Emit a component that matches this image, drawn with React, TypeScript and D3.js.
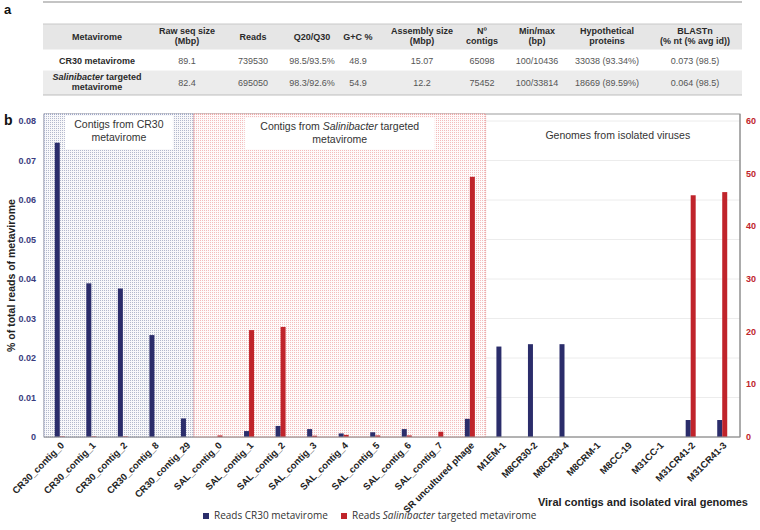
import React from 'react';
import * as d3 from 'd3';

// panel a: table
const tableHeaders = [
  ['Metavirome'], ['Raw seq size', '(Mbp)'], ['Reads'], ['Q20/Q30'], ['G+C %'],
  ['Assembly size', '(Mbp)'], ['Nº', 'contigs'], ['Min/max', '(bp)'],
  ['Hypothetical', 'proteins'], ['BLASTn', '(% nt (% avg id))'],
];
const rowCR30 = ['CR30 metavirome', '89.1', '739530', '98.5/93.5%', '48.9', '15.07', '65098', '100/10436', '33038 (93.34%)', '0.073 (98.5)'];
const rowSAL = ['Salinibacter targeted metavirome', '82.4', '695050', '98.3/92.6%', '54.9', '12.2', '75452', '100/33814', '18669 (89.59%)', '0.064 (98.5)'];
const colCenters = [97, 187, 253, 312, 358, 422, 482, 537, 607, 695];

// panel b: bars
const categories = [
  'CR30_contig_0', 'CR30_contig_1', 'CR30_contig_2', 'CR30_contig_8', 'CR30_contig_29',
  'SAL_contig_0', 'SAL_contig_1', 'SAL_contig_2', 'SAL_contig_3', 'SAL_contig_4',
  'SAL_contig_5', 'SAL_contig_6', 'SAL_contig_7', 'SR uncultured phage',
  'M1EM-1', 'M8CR30-2', 'M8CR30-4', 'M8CRM-1', 'M8CC-19', 'M31CC-1', 'M31CR41-2', 'M31CR41-3',
];
// % of total reads, CR30 metavirome (left axis)
const cr30Reads = [0.0745, 0.0389, 0.0376, 0.0258, 0.0047, 0, 0.0015, 0.0028, 0.002, 0.0009, 0.0012, 0.002, 0, 0.0046,
  0.0229, 0.0235, 0.0235, 0, 0, 0, 0.0043, 0.0043];
// % of total reads, Salinibacter targeted metavirome (right axis)
const salReads = [0.1, 0.1, 0.1, 0, 0, 0.3, 20.3, 20.9, 0.25, 0.4, 0.3, 0.3, 1.0, 49.4,
  0, 0, 0, 0, 0, 0, 45.9, 46.5];
const leftTicks = [0, 0.01, 0.02, 0.03, 0.04, 0.05, 0.06, 0.07, 0.08];
const rightTicks = [0, 10, 20, 30, 40, 50, 60];

const BLUE = '#2b2d6b';
const RED = '#c0242b';
const font = '"Liberation Sans", Arial, sans-serif';

const App = () => {
  const W = 760, H = 530;
  const m = {left: 44, right: 738, top: 114, bottom: 437};

  const x = d3.scaleBand().domain(categories).range([m.left, m.right]);
  const xs = d3.scaleBand().domain(['cr30', 'sal']).range([x.bandwidth() / 2 - 5, x.bandwidth() / 2 + 5]);
  const yL = d3.scaleLinear().domain([0, 0.08]).range([m.bottom, 121]);
  const yR = d3.scaleLinear().domain([0, 60]).range([m.bottom, 121]);

  const blueEnd = x('CR30_contig_29')! + x.bandwidth() * 0.75;
  const redEnd = x('M1EM-1')!;
  const axisRight = 740;

  return (
    <svg width={W} height={H} style={{display: 'block', position: 'absolute', left: 0, top: 0}} fontFamily={font}>
      <defs>
        <pattern id="dotBlue" width="2" height="2" patternUnits="userSpaceOnUse">
          <rect width="2" height="2" fill="#f8f8fa" />
          <rect width="1" height="1" fill="#b3b8cc" />
        </pattern>
        <pattern id="dotRed" width="2" height="2" patternUnits="userSpaceOnUse">
          <rect width="2" height="2" fill="#fefbfb" />
          <rect width="1" height="1" fill="#f3bcbc" />
        </pattern>
      </defs>
      <rect width={W} height={H} fill="#fff" />

      {/* panel a */}
      <text x={4} y={14} fontSize={13} fontWeight="bold" fill="#111">a</text>
      <line x1={43} x2={742} y1={2} y2={2} stroke="#c4c4c4" strokeWidth={2} />
      <rect x={43} y={24} width={699} height={26} fill="#e6e6e6" />
      <rect x={43} y={70} width={699} height={25} fill="#ececec" />
      <line x1={43} x2={742} y1={24} y2={24} stroke="#c8c8c8" />
      <line x1={43} x2={742} y1={95} y2={95} stroke="#bdbdbd" />
      <line x1={43} x2={742} y1={50} y2={50} stroke="#fff" />
      <line x1={43} x2={742} y1={70} y2={70} stroke="#fff" />
      {tableHeaders.map((h, i) => (
        <text key={'h' + i} x={colCenters[i]} textAnchor="middle" fontSize={9} fontWeight="bold" fill="#2a2a2a">
          {h.map((ln, j) => (
            <tspan key={j} x={colCenters[i]} y={h.length === 1 ? 40 : 34 + j * 10}>{ln}</tspan>
          ))}
        </text>
      ))}
      {rowCR30.map((v, i) => (
        <text key={'r1' + i} x={colCenters[i]} y={64} textAnchor="middle" fontSize={9}
              fontWeight={i === 0 ? 'bold' : 'normal'} fill={i === 0 ? '#2a2a2a' : '#555'}>{v}</text>
      ))}
      {rowSAL.map((v, i) => i === 0 ? (
        <text key="r2_0" x={colCenters[0]} textAnchor="middle" fontSize={9} fontWeight="bold" fill="#2a2a2a">
          <tspan x={colCenters[0]} y={80}><tspan fontStyle="italic">Salinibacter</tspan> targeted</tspan>
          <tspan x={colCenters[0]} y={90}>metavirome</tspan>
        </text>
      ) : (
        <text key={'r2' + i} x={colCenters[i]} y={86} textAnchor="middle" fontSize={9} fill="#555">{v}</text>
      ))}

      {/* panel b */}
      <text x={4} y={125} fontSize={14} fontWeight="bold" fill="#111">b</text>

      {/* white region gridlines */}
      {leftTicks.map(t => (
        <line key={'g' + t} x1={redEnd} x2={axisRight} y1={yL(t)} y2={yL(t)} stroke="#ececec" />
      ))}
      <rect x={m.left} y={m.top} width={axisRight - m.left} height={m.bottom - m.top} fill="none" stroke="#9c9c9c" />

      {/* shaded regions */}
      <rect x={m.left} y={m.top} width={blueEnd - m.left} height={m.bottom - m.top}
            fill="url(#dotBlue)" stroke="#8e97c0" strokeDasharray="1,1" />
      <rect x={blueEnd} y={m.top} width={redEnd - blueEnd} height={m.bottom - m.top}
            fill="url(#dotRed)" stroke="#e38a8a" strokeDasharray="1,1" />

      {/* region labels */}
      <rect x={(m.left + blueEnd) / 2 - 54} y={116} width={108} height={33} fill="#fff" />
      <text textAnchor="middle" fontSize={10.5} fill="#333">
        <tspan x={(m.left + blueEnd) / 2} y={128}>Contigs from CR30</tspan>
        <tspan x={(m.left + blueEnd) / 2} y={141}>metavirome</tspan>
      </text>
      <rect x={(blueEnd + redEnd) / 2 - 95} y={118} width={190} height={31} fill="#fff" />
      <text textAnchor="middle" fontSize={10.5} fill="#333">
        <tspan x={(blueEnd + redEnd) / 2} y={130}>Contigs from <tspan fontStyle="italic">Salinibacter</tspan> targeted</tspan>
        <tspan x={(blueEnd + redEnd) / 2} y={143}>metavirome</tspan>
      </text>
      <text x={(redEnd + axisRight) / 2 + 5} y={139} textAnchor="middle" fontSize={10.5} fill="#333">
        Genomes from isolated viruses
      </text>

      {/* bars */}
      {categories.map((c, i) => (
        <g key={c} transform={`translate(${x(c)},0)`}>
          {cr30Reads[i] > 0 && (
            <rect x={xs('cr30')} width={xs.bandwidth()} y={yL(cr30Reads[i])}
                  height={m.bottom - yL(cr30Reads[i])} fill={BLUE} />
          )}
          {salReads[i] > 0 && (
            <rect x={xs('sal')} width={xs.bandwidth()} y={yR(salReads[i])}
                  height={m.bottom - yR(salReads[i])} fill={RED} />
          )}
        </g>
      ))}

      {/* axes */}
      <line x1={m.left} x2={axisRight} y1={m.bottom} y2={m.bottom} stroke="#9c9c9c" />
      <line x1={axisRight} x2={axisRight} y1={m.top} y2={m.bottom} stroke="#8a8a8a" />
      {leftTicks.map(t => (
        <text key={'l' + t} x={36} y={yL(t)} dy="0.35em" textAnchor="end" fontSize={9}
              fontWeight="bold" fill="#3a3c7e">{t === 0 ? '0' : d3.format('.2f')(t)}</text>
      ))}
      {rightTicks.map(t => (
        <text key={'r' + t} x={746} y={yR(t)} dy="0.35em" textAnchor="start" fontSize={9}
              fontWeight="bold" fill={RED}>{t}</text>
      ))}
      {categories.map(c => {
        const cx = x(c)! + x.bandwidth() / 2 + 5;
        return (
          <text key={'t' + c} transform={`translate(${cx},446) rotate(-45)`} textAnchor="end"
                fontSize={9.5} fontWeight="bold" fill="#222">{c}</text>
        );
      })}

      <text transform={`translate(15,${(m.top + m.bottom) / 2}) rotate(-90)`} textAnchor="middle"
            fontSize={10.5} fontWeight="bold" fill="#222">% of total reads of metavirome</text>
      <text x={748} y={506} textAnchor="end" fontSize={11} fontWeight="bold" fill="#222">
        Viral contigs and isolated viral genomes
      </text>

      {/* legend */}
      <rect x={203} y={513} width={6} height={6} fill={BLUE} />
      <text x={214} y={519} fontSize={10} fill="#333" fontFamily='"Open Sans", sans-serif'>Reads CR30 metavirome</text>
      <rect x={341} y={513} width={6} height={6} fill={RED} />
      <text x={352} y={519} fontSize={10} fill="#333" fontFamily='"Open Sans", sans-serif'>
        Reads <tspan fontStyle="italic">Salinibacter</tspan> targeted metavirome
      </text>
    </svg>
  );
};

export default App;
